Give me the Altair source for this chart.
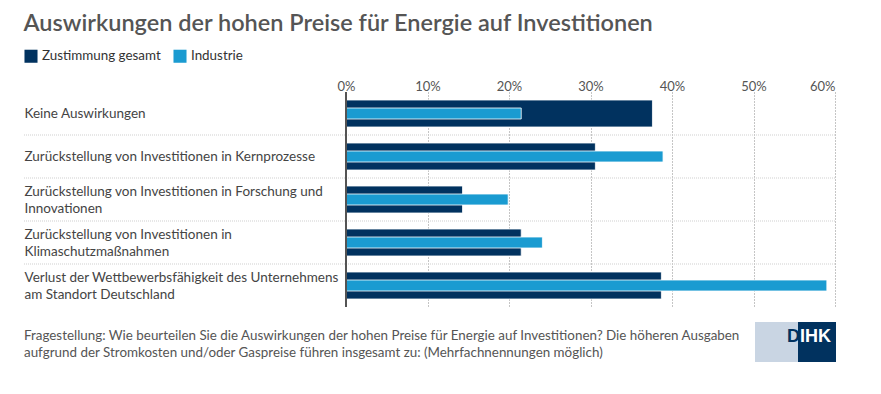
import altair as alt
import pandas as pd

title_text = "Auswirkungen der hohen Preise für Energie auf Investitionen"
categories = [
    "Keine Auswirkungen",
    "Zurückstellung von Investitionen in Kernprozesse",
    "Zurückstellung von Investitionen in Forschung und Innovationen",
    "Zurückstellung von Investitionen in Klimaschutzmaßnahmen",
    "Verlust der Wettbewerbsfähigkeit des Unternehmens am Standort Deutschland",
]
label_lines = [
    ["Keine Auswirkungen"],
    ["Zurückstellung von Investitionen in Kernprozesse"],
    ["Zurückstellung von Investitionen in Forschung und", "Innovationen"],
    ["Zurückstellung von Investitionen in", "Klimaschutzmaßnahmen"],
    ["Verlust der Wettbewerbsfähigkeit des Unternehmens", "am Standort Deutschland"],
]
series = ["Zustimmung gesamt", "Industrie"]
gesamt = [37.6, 30.6, 14.3, 21.5, 38.7]
industrie = [21.5, 38.9, 19.9, 24.1, 59.0]
x_ticks = [0, 10, 20, 30, 40, 50, 60]
footer_text = ("Fragestellung: Wie beurteilen Sie die Auswirkungen der hohen Preise für Energie auf Investitionen? Die höheren Ausgaben\n"
               "aufgrund der Stromkosten und/oder Gaspreise führen insgesamt zu: (Mehrfachnennungen möglich)")
logo_left = "D"
logo_right = "IHK"

DARK = "#01325f"
LIGHT = "#1a9bd1"
FONT = "Lato"

W = 489
H = 215
LEFT = 322

rows = []
for c, g, i in zip(categories, gesamt, industrie):
    rows.append({"category": c, "series": series[0], "value": g})
    rows.append({"category": c, "series": series[1], "value": i})
df = pd.DataFrame(rows)
sep_df = pd.DataFrame({"category": categories[1:]})

def js(s):
    return "'" + s.replace("'", "\\'") + "'"

expr = "''"
for c, lines in reversed(list(zip(categories, label_lines))):
    arr = "[" + ",".join(js(l) for l in lines) + "]"
    expr = f"datum.value == {js(c)} ? {arr} : ({expr})"

two_line = [c for c, l in zip(categories, label_lines) if len(l) > 1]
two_line_test = " || ".join(f"datum.value == {js(c)}" for c in two_line)

color = alt.Color(
    "series:N",
    scale=alt.Scale(domain=series, range=[DARK, LIGHT]),
    legend=alt.Legend(
        title=None, orient="none", direction="horizontal",
        legendX=-LEFT, legendY=-43,
        symbolType="square", symbolSize=170, symbolStrokeWidth=0,
        labelFont=FONT, labelFontSize=13.4, labelColor="#333",
        columnPadding=12, symbolOffset=0,
    ),
)

y_enc = alt.Y(
    "category:N", sort=categories, title=None,
    axis=alt.Axis(
        domain=False, ticks=False, grid=False,
        labelAlign="left", labelPadding=LEFT, labelBaseline="middle",
        labelFont=FONT, labelFontSize=13.5, labelColor="#444",
        labelLimit=400, labelLineHeight=17, labelExpr=expr,
        labelOffset={"condition": {"test": two_line_test, "value": -8}, "value": 0},
    ),
)
x_enc = alt.X(
    "value:Q", title=None,
    scale=alt.Scale(domain=[0, 60], nice=False),
    axis=alt.Axis(
        orient="top", values=x_ticks, domain=False, ticks=False,
        grid=True, gridDash=[1, 2], gridColor="#8a8a8a", gridWidth=1,
        labelFont=FONT, labelFontSize=13, labelColor="#555", labelPadding=-1,
        labelExpr="datum.value + '%'",
        labelAlign={"condition": {"test": "datum.value == 60", "value": "right"}, "value": "center"},
    ),
)

base = alt.Chart(df)
dark = base.transform_filter(alt.datum.series == series[0]).mark_bar(
    size=27, stroke="white", strokeWidth=0.8
).encode(x=x_enc, y=y_enc, color=color)
light = base.transform_filter(alt.datum.series == series[1]).mark_bar(
    size=11, stroke="white", strokeWidth=0.8
).encode(x="value:Q", y=alt.Y("category:N", sort=categories), color=color)

zero = alt.Chart(df).mark_rule(color="#555", strokeWidth=1.5).encode(x=alt.datum(0))

seps = alt.Chart(sep_df).mark_rule(color="#cfcfcf", strokeDash=[1, 1], strokeWidth=1).encode(
    y=alt.Y("category:N", sort=categories, bandPosition=0),
    x=alt.value(-LEFT), x2=alt.value(W),
)

footer = alt.Chart(pd.DataFrame({"t": [footer_text]})).mark_text(
    align="left", baseline="middle", font=FONT, fontSize=13.4, color="#555",
    lineBreak="\n", lineHeight=17,
).encode(text="t:N", x=alt.value(-LEFT), y=alt.value(H + 29))

logo_bg = alt.Chart(pd.DataFrame({"a": [1]})).mark_rect(color="#c9d5e3").encode(
    x=alt.value(409), x2=alt.value(490), y=alt.value(230), y2=alt.value(270))
logo_dark = alt.Chart(pd.DataFrame({"a": [1]})).mark_rect(color=DARK).encode(
    x=alt.value(452), x2=alt.value(490), y=alt.value(230), y2=alt.value(270))
logo_d = alt.Chart(pd.DataFrame({"t": [logo_left]})).mark_text(
    align="right", baseline="middle", font="Liberation Sans", fontSize=18, fontWeight="bold", color=DARK
).encode(text="t:N", x=alt.value(454), y=alt.value(245))
logo_ihk = alt.Chart(pd.DataFrame({"t": [logo_right]})).mark_text(
    align="left", baseline="middle", font="Liberation Sans", fontSize=18, fontWeight="bold", color="white"
).encode(text="t:N", x=alt.value(454), y=alt.value(245))

chart = alt.layer(seps, dark, light, zero, footer, logo_bg, logo_dark, logo_d, logo_ihk).properties(
    width=W, height=H,
    title=alt.TitleParams(title_text, anchor="start", frame="bounds", font=FONT, fontSize=23.5,
                          fontWeight=600, color="#555", offset=14),
    autosize=alt.AutoSizeParams(type="none"),
    padding={"left": 338, "top": 84, "right": 30, "bottom": 70},
).configure_view(stroke=None)

chart.save("out.html", embed_options={"renderer": "svg", "actions": False})
